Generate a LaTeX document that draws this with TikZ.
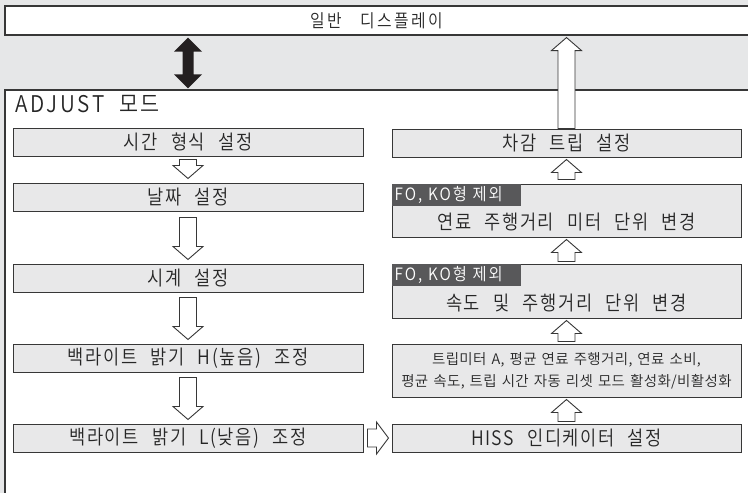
\documentclass[tikz,border=0pt]{standalone}
\usepackage{fontspec}
\IfFontExistsTF{Noto Sans CJK KR DemiLight}{\def\krname{Noto Sans CJK KR DemiLight}}{%
  \IfFontExistsTF{Noto Sans CJK KR Light}{\def\krname{Noto Sans CJK KR Light}}{\def\krname{Noto Sans CJK KR}}}
\setmainfont{Noto Sans CJK KR}
\newfontfamily\kr[LetterSpace=8,WordSpace=2.4,FakeStretch=0.88]{\krname}
\newfontfamily\krw[LetterSpace=14,WordSpace=3,FakeStretch=0.88]{\krname}
\newfontfamily\krl[LetterSpace=12,WordSpace=2,FakeStretch=0.9]{\krname}
\newfontfamily\krt[LetterSpace=2.5,WordSpace=1.4]{\krname}
\usetikzlibrary{calc}
\definecolor{bg}{RGB}{230,231,232}
\definecolor{boxfill}{RGB}{232,232,233}
\definecolor{edge}{RGB}{55,55,55}
\definecolor{lblfill}{RGB}{88,88,90}
\definecolor{blackarrow}{RGB}{35,31,32}
\tikzset{
  lbox/.style={draw=edge, fill=boxfill, line width=1pt, minimum width=350pt, minimum height=28pt, inner sep=0pt},
  rbox/.style={lbox, minimum width=349pt},
  btxt/.style={font=\kr\fontsize{20}{23}\selectfont, inner sep=0pt, text=black!85},
  smalltxt/.style={font=\krt\fontsize{14.5}{22}\selectfont, inner sep=0pt, align=center, text=black!85},
  lbl/.style={fill=lblfill, text=white, anchor=north west, minimum height=22pt, inner xsep=3pt, inner ysep=0pt, text width=123pt, align=left, font=\krl\fontsize{17}{19}\selectfont},
  blk/.style={draw=edge, fill=white, line width=0.9pt, line join=miter},
  frame/.style={draw=edge, fill=white, line width=1.1pt, inner sep=0pt},
}
\newcommand{\downblock}[4]{%
  \draw[blk] let \p1=(#1.south), \p2=(#2.north) in
    (\x1-8.5pt,\y1-#3) -- (\x1-8.5pt,\y2+#4+13pt) -- (\x1-15pt,\y2+#4+13pt) -- (\x1,\y2+#4)
    -- (\x1+15pt,\y2+#4+13pt) -- (\x1+8.5pt,\y2+#4+13pt) -- (\x1+8.5pt,\y1-#3) -- cycle;}
\newcommand{\upblock}[4]{%
  \draw[blk] let \p1=(#1.north), \p2=(#2.south) in
    (\x1-8.5pt,\y1+#3) -- (\x1-8.5pt,\y2-#4-13pt) -- (\x1-15pt,\y2-#4-13pt) -- (\x1,\y2-#4)
    -- (\x1+15pt,\y2-#4-13pt) -- (\x1+8.5pt,\y2-#4-13pt) -- (\x1+8.5pt,\y1+#3) -- cycle;}
\begin{document}
\begin{tikzpicture}[x=1pt,y=-1pt]
\useasboundingbox (0,0) rectangle (748,493);
\clip (0,0) rectangle (748,493);
\fill[bg] (0,0) rectangle (748,493);

% top bar and ADJUST frame
\node[frame, minimum width=765pt, minimum height=29pt] (TOP) at (387.5,20.5) {};
\node[font=\krw\fontsize{18}{21}\selectfont, inner sep=0pt, text=black!85] (toptxt) at (377,21) {일반 디스플레이};
\node[frame, minimum width=765pt, minimum height=420pt] (ADJ) at (387.5,300) {};
\node[anchor=west, inner sep=0pt, font=\krl\fontsize{23}{26}\selectfont, text=black!85] (adjlbl) at (15,104) {ADJUST 모드};

% left column
\node[lbox] (L1) at (188,142) {};
\node[btxt] at (L1.center) {시간 형식 설정};
\node[lbox] (L2) at (188,197) {};
\node[btxt] at (L2.center) {날짜 설정};
\node[lbox] (L3) at (188,278) {};
\node[btxt] at (L3.center) {시계 설정};
\node[lbox] (L4) at (188,358) {};
\node[btxt] at (L4.center) {백라이트 밝기 H(높음) 조정};
\node[lbox] (L5) at (188,438) {};
\node[btxt] at (L5.center) {백라이트 밝기 L(낮음) 조정};

% right column
\node[rbox] (R1) at (566.5,143) {};
\node[btxt] at (R1.center) {차감 트립 설정};
\node[rbox, minimum height=53pt] (R2) at (566.5,210.5) {};
\node[lbl] (R2l) at (R2.north west) {FO, KO형 제외};
\node[btxt] (R2t) at (566.5,222) {연료 주행거리 미터 단위 변경};
\node[rbox, minimum height=54pt] (R3) at (566.5,291) {};
\node[lbl] (R3l) at (R3.north west) {FO, KO형 제외};
\node[btxt] (R3t) at (566.5,303) {속도 및 주행거리 단위 변경};
\node[rbox, minimum height=53pt] (R4) at (566.5,370.5) {};
\node[smalltxt] (R4t) at (R4.center) {트립미터 A, 평균 연료 주행거리, 연료 소비,\\평균 속도, 트립 시간 자동 리셋 모드 활성화/비활성화};
\node[rbox] (R5) at (566.5,438) {};
\node[btxt] at (R5.center) {HISS 인디케이터 설정};

% block arrows, left column (downwards)
\downblock{L1}{L2}{3pt}{4pt}
\downblock{L2}{L3}{6pt}{4pt}
\downblock{L3}{L4}{5pt}{4pt}
\downblock{L4}{L5}{5pt}{4pt}

% right-pointing arrow
\draw[blk] let \p1=(L5.east), \p2=(R5.west) in
  (\x1+4pt,\y1+9pt) -- (\x2-15pt,\y1+9pt) -- (\x2-15pt,\y1+16pt) -- (\x2-3pt,\y1)
  -- (\x2-15pt,\y1-16pt) -- (\x2-15pt,\y1-9pt) -- (\x1+4pt,\y1-9pt) -- cycle;

% block arrows, right column (upwards)
\upblock{R5}{R4}{2pt}{2pt}
\upblock{R4}{R3}{2pt}{2pt}
\upblock{R3}{R2}{2pt}{2pt}
\upblock{R2}{R1}{4pt}{2pt}
\upblock{R1}{TOP}{0pt}{2pt}

% black double arrow
\fill[blackarrow] let \p1=(TOP.south), \p2=(ADJ.north), \p3=(L1.center) in
  (\x3,\y1-2pt) -- (\x3+14pt,\y1-16pt) -- (\x3+5.5pt,\y1-16pt) -- (\x3+5.5pt,\y2+15pt)
  -- (\x3+14pt,\y2+15pt) -- (\x3,\y2+1pt) -- (\x3-14pt,\y2+15pt) -- (\x3-5.5pt,\y2+15pt)
  -- (\x3-5.5pt,\y1-16pt) -- (\x3-14pt,\y1-16pt) -- cycle;
\end{tikzpicture}
\end{document}
